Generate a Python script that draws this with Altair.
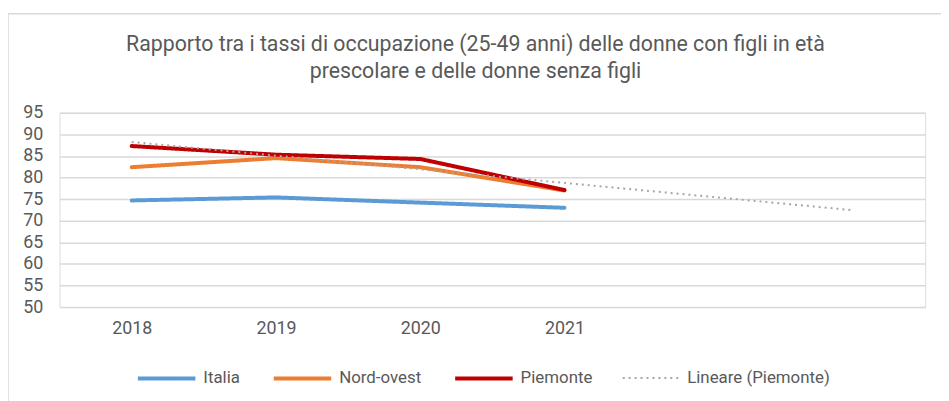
import altair as alt
import pandas as pd

years = [2018, 2019, 2020, 2021]
italia = [74.7, 75.4, 74.2, 73.0]
nord_ovest = [82.4, 84.5, 82.4, 77.0]
piemonte = [87.3, 85.3, 84.3, 77.1]

series_names = ["Italia", "Nord-ovest", "Piemonte", "Lineare (Piemonte)"]
series_colors = ["#5B9BD5", "#ED7D31", "#C00000", "#A6A6A6"]
title_lines = [
    "Rapporto tra i tassi di occupazione (25-49 anni) delle donne con figli in età",
    "prescolare e delle donne senza figli",
]

rows = []
for name, vals in [("Italia", italia), ("Nord-ovest", nord_ovest), ("Piemonte", piemonte)]:
    for y, v in zip(years, vals):
        rows.append({"year": y, "series": name, "value": v, "order": series_names.index(name)})
df = pd.DataFrame(rows)

FONT = "Roboto"
TXT = "#595959"

color = alt.Color("series:N", scale=alt.Scale(domain=series_names, range=series_colors),
                  title=None,
                  legend=alt.Legend(orient="none", direction="horizontal", legendX=77, legendY=237,
                                    symbolType="stroke", symbolSize=3364, labelFontSize=17,
                                    labelFont=FONT, labelColor=TXT, labelOffset=6,
                                    columnPadding=26))
dash = alt.StrokeDash("series:N", scale=alt.Scale(domain=series_names,
                      range=[[1, 0], [1, 0], [1, 0], [2, 4]]), title=None)
width = alt.StrokeWidth("series:N", scale=alt.Scale(type="ordinal", domain=series_names,
                        range=[4, 4, 4, 2]), title=None)

x = alt.X("year:Q", scale=alt.Scale(domain=[2017.5, 2023.5], nice=False, zero=False),
          axis=alt.Axis(values=years, format="d", title=None, grid=False, domain=False,
                        ticks=False, labelFontSize=18, labelFont=FONT, labelColor=TXT,
                        labelPadding=13))
y = alt.Y("value:Q", scale=alt.Scale(domain=[50, 95], nice=False, zero=False),
          axis=alt.Axis(values=list(range(50, 96, 5)), title=None, domain=False, ticks=False,
                        gridColor="#D9D9D9", gridWidth=1.5, labelFontSize=18, labelFont=FONT,
                        labelColor=TXT, labelPadding=17))

lines = alt.Chart(df).mark_line(strokeCap="round", strokeJoin="round").encode(
    x=x, y=y, color=color, strokeDash=dash, strokeWidth=width, order="order:Q",
    detail="series:N")

trend = alt.Chart(df).transform_filter(alt.datum.series == "Piemonte").transform_regression(
    "year", "value", method="linear", extent=[2018, 2023]
).transform_calculate(series="'Lineare (Piemonte)'").mark_line(strokeCap="butt").encode(
    x=x, y=y, color=color, strokeDash=dash, strokeWidth=width)

border = alt.Chart(alt.Data(values=[{"a": 1}])).mark_rect(
    fillOpacity=0, stroke="#D9D9D9", strokeWidth=1.5).encode(
    x=alt.value(-52), x2=alt.value(960), y=alt.value(-100), y2=alt.value(400))

chart = alt.layer(border, lines, trend).properties(
    width=873, height=196,
    title=alt.TitleParams(text=title_lines, fontSize=21.5, font=FONT, color=TXT,
                          fontWeight="normal", anchor="middle", frame="group", dx=-17,
                          offset=-70, lineHeight=27),
    autosize=alt.AutoSizeParams(type="none"),
    padding={"left": 52, "top": 104, "right": 16, "bottom": 93},
).configure_view(stroke=None).configure(background="white")

chart.save("out.html", embed_options={"renderer": "svg", "actions": False})
